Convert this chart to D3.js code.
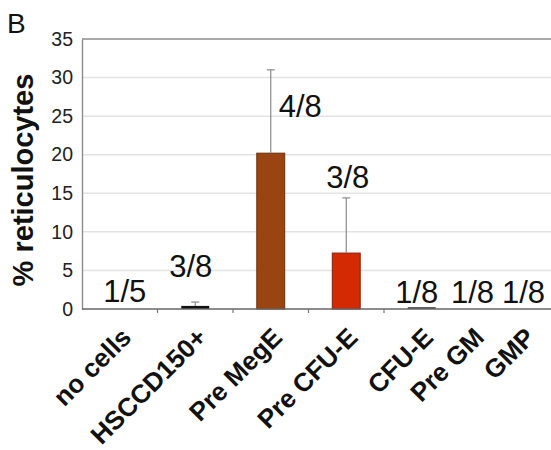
<!DOCTYPE html>
<html>
<head>
<meta charset="utf-8">
<script src="https://cdn.jsdelivr.net/npm/d3@7"></script>
<style>
  html, body { margin: 0; padding: 0; background: #fff; }
  svg { display: block; font-family: "Liberation Sans", Arial, sans-serif; }
</style>
</head>
<body>
<svg id="chart" width="551" height="450"></svg>
<script>
// ---- data ----
const categories = ["no cells", "HSCCD150+", "Pre MegE", "Pre CFU-E", "CFU-E", "Pre GM", "GMP"];
const values     = [0, 0.4, 20.2, 7.25, 0.25, 0, 0];
const errorTops  = [0, 0.9, 31.0, 14.4, 0.25, 0, 0];
const fractions  = ["1/5", "3/8", "4/8", "3/8", "1/8", "1/8", "1/8"];
const fractionY  = [0.9, 4.15, 24.9, 15.7, 0.78, 0.78, 0.78];   // label baselines, in % units
const yTicks     = [0, 5, 10, 15, 20, 25, 30, 35];
const barColors  = ["#111111", "#111111", "#9a4511", "#d42a04", "#555555", "#555555", "#555555"];
const barStrokes = ["#000000", "#000000", "#6a2e08", "#8f1c02", "#333333", "#333333", "#333333"];

(function () {
// ---- layout ----
const mLeft = 82, mTop = 39, mBottom = 309, mRight = 560;
const svg = d3.select("#chart");

const y = d3.scaleLinear().domain([0, 35]).range([mBottom, mTop]);

// main panel (first five groups, evenly spaced) + appended narrower panel (last two)
const xMain = d3.scaleBand().domain(categories.slice(0, 5)).range([mLeft, mLeft + 5 * 75.5]);
const xTail = d3.scaleBand().domain(categories.slice(5)).range([447, 549]);
const cx = c => xMain.domain().includes(c) ? xMain(c) + xMain.bandwidth() / 2 : xTail(c) + xTail.bandwidth() / 2;
const barW = xMain.bandwidth() * 0.37;

// gridlines
svg.append("g").selectAll("line").data(yTicks.filter(t => t > 0 && t < 35)).join("line")
  .attr("x1", mLeft).attr("x2", mRight)
  .attr("y1", d => y(d)).attr("y2", d => y(d))
  .attr("stroke", "#e3e3e3").attr("stroke-width", 1.5);

// top border
svg.append("line").attr("x1", mLeft).attr("x2", mRight).attr("y1", y(35)).attr("y2", y(35))
  .attr("stroke", "#8c8c8c").attr("stroke-width", 1.6);

// y axis
const yAxis = d3.axisLeft(y).tickValues(yTicks).tickSize(0).tickPadding(9);
const gy = svg.append("g").attr("transform", `translate(${mLeft},0)`).call(yAxis);
gy.select(".domain").attr("stroke", "#8c8c8c").attr("stroke-width", 1.4);
gy.selectAll("text").attr("font-size", 19.5).attr("fill", "#222")
  .attr("font-family", "'Liberation Sans', Arial, sans-serif");

// bars
svg.append("g").selectAll("rect").data(categories).join("rect")
  .attr("x", (c) => cx(c) - barW / 2)
  .attr("width", barW)
  .attr("y", (c, i) => y(values[i]))
  .attr("height", (c, i) => y(0) - y(values[i]))
  .attr("fill", (c, i) => barColors[i])
  .attr("stroke", (c, i) => values[i] > 1 ? barStrokes[i] : "none")
  .attr("stroke-width", 1);

// error bars
const eb = svg.append("g").attr("stroke", "#8a8a8a").attr("stroke-width", 1.2);
categories.forEach((c, i) => {
  if (errorTops[i] <= values[i]) return;
  eb.append("line").attr("x1", cx(c)).attr("x2", cx(c)).attr("y1", y(values[i])).attr("y2", y(errorTops[i]));
  eb.append("line").attr("x1", cx(c) - 4).attr("x2", cx(c) + 4).attr("y1", y(errorTops[i])).attr("y2", y(errorTops[i]));
});

// x axis line + ticks
svg.append("line").attr("x1", mLeft).attr("x2", mRight).attr("y1", mBottom).attr("y2", mBottom)
  .attr("stroke", "#666").attr("stroke-width", 1.6);
svg.append("g").selectAll("line").data(xMain.domain().slice(1)).join("line")
  .attr("x1", c => xMain(c)).attr("x2", c => xMain(c))
  .attr("y1", mBottom).attr("y2", mBottom + 4)
  .attr("stroke", "#777").attr("stroke-width", 1.2);

// x category labels
svg.append("g").selectAll("text").data(categories).join("text")
  .attr("transform", c => `translate(${cx(c) + 13},${mBottom + 30}) rotate(-45)`)
  .attr("text-anchor", "end")
  .attr("font-size", 26).attr("font-weight", "bold").attr("fill", "#111")
  .text(c => c);

// fraction labels
const fracDx = [5, -4.5, 29.5, 1.5, -5, 0, 0];
svg.append("g").selectAll("text").data(categories).join("text")
  .attr("x", (c, i) => cx(c) + fracDx[i])
  .attr("y", (c, i) => y(fractionY[i]))
  .attr("text-anchor", "middle")
  .attr("font-size", 31).attr("fill", "#111")
  .text((c, i) => fractions[i]);

// y title
svg.append("text")
  .attr("transform", `translate(33,${(mTop + mBottom) / 2 + 6}) rotate(-90)`)
  .attr("text-anchor", "middle")
  .attr("font-size", 29).attr("font-weight", "bold").attr("fill", "#111")
  .text("% reticulocytes");

// panel letter
svg.append("text").attr("x", 7).attr("y", 33)
  .attr("font-size", 28).attr("fill", "#111").text("B");
})();
</script>
</body>
</html>
